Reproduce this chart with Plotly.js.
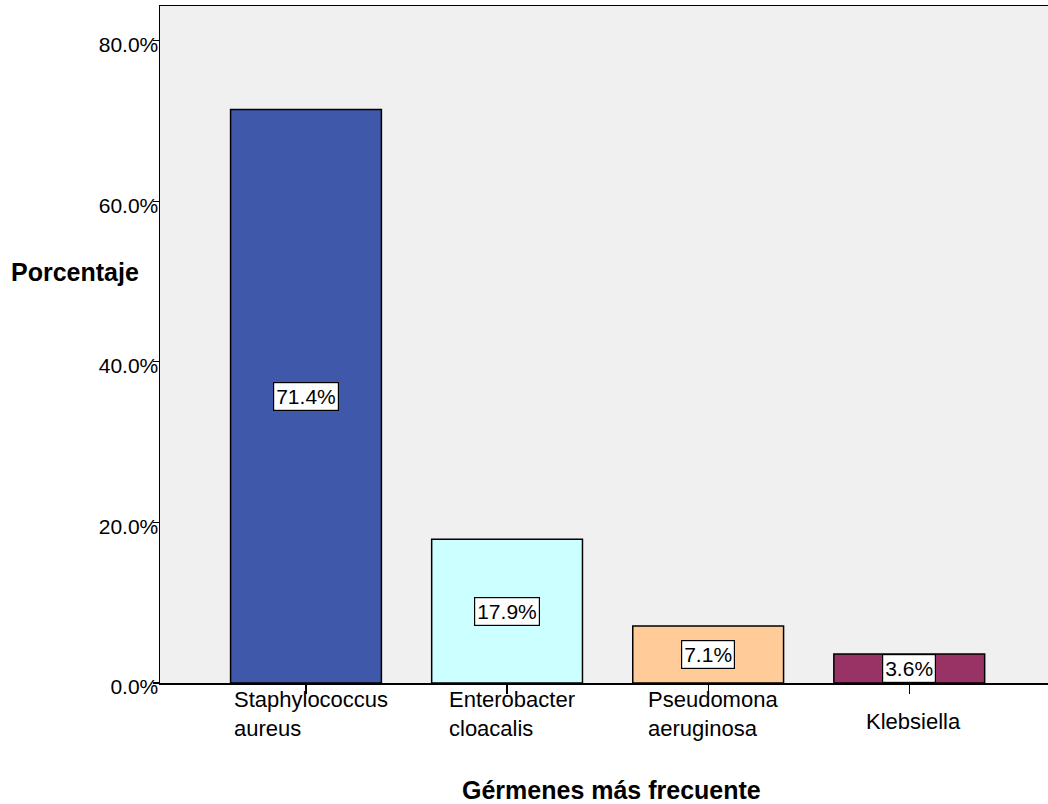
<!DOCTYPE html>
<html>
<head>
<meta charset="utf-8">
<script src="https://cdn.plot.ly/plotly-3.0.1.min.js"></script>
<style>
  html, body { margin: 0; padding: 0; background: #ffffff; }
  #chart { width: 1048px; height: 804px; }
</style>
</head>
<body>
<div id="chart"></div>
<script>
// Germ frequency (percent of isolates)
const categories = ['Staphylococcus aureus', 'Enterobacter cloacalis', 'Pseudomona aeruginosa', 'Klebsiella'];
const categoryLabels = ['Staphylococcus<br>aureus', 'Enterobacter<br>cloacalis', 'Pseudomona<br>aeruginosa', 'Klebsiella'];
const percentages = [71.4, 17.9, 7.1, 3.6];
const barColors = ['#3F58AA', '#CCFFFF', '#FFCC99', '#993366'];
const yTickValues = [0, 20, 40, 60, 80];
const yTickLabels = ['0.0%', '20.0%', '40.0%', '60.0%', '80.0%'];

const FONT = 'Arial, "Liberation Sans", sans-serif';

const trace = {
  type: 'bar',
  x: categories,
  y: percentages,
  width: 0.75,
  marker: { color: barColors, line: { color: '#000000', width: 1.5 } },
  hoverinfo: 'skip'
};

const annotations = [];

// value boxes centred halfway up each bar
percentages.forEach((v, i) => {
  annotations.push({
    x: categories[i], y: v / 2, xref: 'x', yref: 'y',
    text: v.toFixed(1) + '%', showarrow: false,
    font: { family: FONT, size: 21, color: '#000' },
    bgcolor: '#ffffff', bordercolor: '#000000', borderwidth: 1.2, borderpad: 2
  });
});

// category labels, left-aligned block under each tick
categoryLabels.forEach((lab, i) => {
  const twoLines = lab.indexOf('<br>') >= 0;
  annotations.push({
    x: categories[i], y: 0, xref: 'x', yref: 'paper',
    xanchor: 'center', yanchor: 'top', align: 'left',
    xshift: twoLines ? 5 : 4,
    yshift: twoLines ? -2 : -24,
    text: lab, showarrow: false,
    font: { family: FONT, size: 22, color: '#000' }
  });
});

// axis titles
annotations.push({
  x: -0.096, y: 0.607, xref: 'paper', yref: 'paper',
  xanchor: 'center', yanchor: 'middle',
  text: '<b>Porcentaje</b>', showarrow: false,
  font: { family: FONT, size: 25, color: '#000' }
});
annotations.push({
  x: 0.508, y: -0.158, xref: 'paper', yref: 'paper',
  xanchor: 'center', yanchor: 'middle',
  text: '<b>Gérmenes más frecuente</b>', showarrow: false,
  font: { family: FONT, size: 25, color: '#000' }
});

const layout = {
  width: 1048, height: 804,
  margin: { l: 160, r: 0, t: 6, b: 121 },
  paper_bgcolor: '#ffffff',
  plot_bgcolor: '#F0F0F0',
  showlegend: false,
  xaxis: {
    type: 'category',
    categoryorder: 'array', categoryarray: categories,
    range: [-0.726, 3.69],
    showticklabels: false,
    ticks: 'outside', ticklen: 9, tickwidth: 1.2, tickcolor: '#000',
    showline: true, linecolor: '#000', linewidth: 1.5, mirror: true,
    showgrid: false, zeroline: false, fixedrange: true
  },
  yaxis: {
    range: [0, 84.3],
    tickmode: 'array',
    tickvals: yTickValues,
    ticktext: yTickLabels,
    ticks: 'outside', ticklen: 6, tickwidth: 1.2, tickcolor: '#000',
    ticklabelstandoff: -10,
    ticklabelshift: 4,
    tickfont: { family: FONT, size: 21, color: '#000' },
    showline: true, linecolor: '#000', linewidth: 1.5,
    showgrid: false, zeroline: false, fixedrange: true
  },
  annotations: annotations
};

Plotly.newPlot('chart', [trace], layout, { staticPlot: true, displayModeBar: false });
</script>
</body>
</html>
